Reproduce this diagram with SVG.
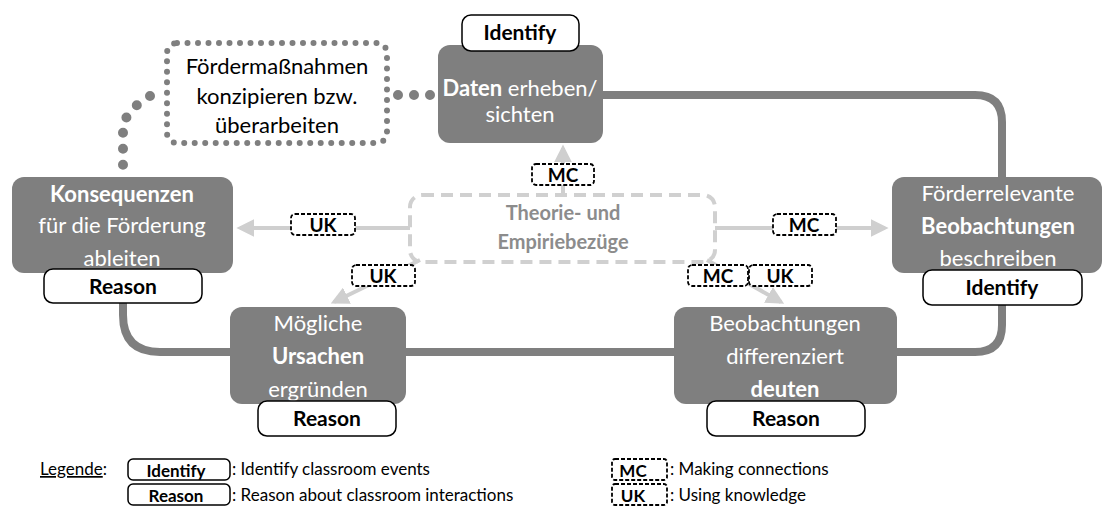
<svg xmlns="http://www.w3.org/2000/svg" width="1105" height="513" viewBox="0 0 1105 513">
<defs>
<style>
.node{fill:#7f7f7f}
.nt{font-family:Lato,"Open Sans",sans-serif;font-size:22px;fill:#fff;text-anchor:middle}
.b{font-weight:bold}
.lab{fill:#fff;stroke:#000;stroke-width:1.5}
.lt{font-family:Lato,"Open Sans",sans-serif;font-size:21px;font-weight:bold;fill:#000;text-anchor:middle}
.tag{fill:#fff;stroke:#000;stroke-width:1.8;stroke-dasharray:4 2}
.tt{font-family:Lato,"Open Sans",sans-serif;font-size:19px;font-weight:bold;fill:#000;text-anchor:middle}
.thick{fill:none;stroke:#7f7f7f;stroke-width:8}
.thin{fill:none;stroke:#cfcfcf;stroke-width:4}
.dots{fill:none;stroke:#7f7f7f;stroke-width:10;stroke-linecap:round;stroke-dasharray:0 16}
.leg{font-family:Lato,"Open Sans",sans-serif;font-size:17px;fill:#000}
.legb{font-family:Lato,"Open Sans",sans-serif;font-size:17px;font-weight:bold;fill:#000;text-anchor:middle}
</style>
<marker id="ah" viewBox="0 0 10 10" refX="8" refY="5" markerWidth="4.5" markerHeight="4.5" orient="auto" markerUnits="strokeWidth">
<path d="M0,0 L10,5 L0,10 z" fill="#cfcfcf"/>
</marker>
</defs>
<rect width="1105" height="513" fill="#fff"/>
<g id="connectors">
<path class="thick" d="M603,95 H975 Q1002,95 1002,122 V177"/>
<path class="thick" d="M1002,305 V325 Q1002,352 975,352 H897"/>
<path class="thick" d="M674,352 H406"/>
<path class="thick" d="M230,352 H160 Q123,352 123,315 V303"/>
<path class="dots" d="M430,95 H395"/>
<path class="dots" d="M150,96 Q123,112 123,130 V170"/>
<path class="thin" d="M563,195 V148" marker-end="url(#ah)"/>
<path class="thin" d="M410,228 H240" marker-end="url(#ah)"/>
<path class="thin" d="M715,228 H885" marker-end="url(#ah)"/>
<path class="thin" d="M420,260 L334,302" marker-end="url(#ah)"/>
<path class="thin" d="M707,260 L781,302" marker-end="url(#ah)"/>
</g>
<g id="massnahmen">
<rect x="167" y="43" width="220" height="100" rx="10" fill="#fff" stroke="#7f7f7f" stroke-width="6" stroke-linecap="round" stroke-dasharray="0 10.5"/>
<text class="nt" x="277" y="74" style="fill:#000">Fördermaßnahmen</text>
<text class="nt" x="277" y="104" style="fill:#000">konzipieren bzw.</text>
<text class="nt" x="277" y="133" style="fill:#000">überarbeiten</text>
</g>
<g id="daten">
<rect class="node" x="438" y="45" width="165" height="98" rx="12"/>
<text class="nt" x="520" y="96"><tspan class="b">Daten</tspan> erheben/</text>
<text class="nt" x="520" y="122">sichten</text>
<rect class="lab" x="462" y="15" width="117" height="36" rx="9"/>
<text class="lt" x="520" y="40">Identify</text>
</g>
<g id="foerderrelevante">
<rect class="node" x="892" y="177" width="210" height="96" rx="12"/>
<text class="nt" x="998" y="201">Förderrelevante</text>
<text class="nt b" x="998" y="234">Beobachtungen</text>
<text class="nt" x="998" y="266">beschreiben</text>
<rect class="lab" x="923" y="270" width="159" height="35" rx="9"/>
<text class="lt" x="1002" y="295">Identify</text>
</g>
<g id="deuten">
<rect class="node" x="674" y="307" width="223" height="97" rx="12"/>
<text class="nt" x="785" y="331">Beobachtungen</text>
<text class="nt" x="785" y="364">differenziert</text>
<text class="nt b" x="785" y="397">deuten</text>
<rect class="lab" x="707" y="401" width="158" height="35" rx="9"/>
<text class="lt" x="786" y="426">Reason</text>
</g>
<g id="ursachen">
<rect class="node" x="230" y="307" width="176" height="97" rx="12"/>
<text class="nt" x="318" y="331">Mögliche</text>
<text class="nt b" x="318" y="364">Ursachen</text>
<text class="nt" x="318" y="397">ergründen</text>
<rect class="lab" x="258" y="401" width="138" height="35" rx="9"/>
<text class="lt" x="327" y="426">Reason</text>
</g>
<g id="konsequenzen">
<rect class="node" x="12" y="177" width="221" height="96" rx="12"/>
<text class="nt b" x="122" y="202">Konsequenzen</text>
<text class="nt" x="122" y="233">für die Förderung</text>
<text class="nt" x="122" y="266">ableiten</text>
<rect class="lab" x="44" y="269" width="158" height="34" rx="9"/>
<text class="lt" x="123" y="294">Reason</text>
</g>
<g id="theorie">
<rect x="410" y="195" width="305" height="67" rx="12" fill="none" stroke="#d0d0d0" stroke-width="4" stroke-dasharray="12 7"/>
<text class="nt b" x="563" y="220" style="fill:#8c8c8c;font-size:20px">Theorie- und</text>
<text class="nt b" x="563" y="249" style="fill:#8c8c8c;font-size:20px">Empiriebezüge</text>
</g>
<g id="tags">
<rect class="tag" x="532" y="164" width="62" height="21" rx="4"/>
<text class="tt" x="563" y="182">MC</text>
<rect class="tag" x="291" y="214" width="64" height="21" rx="4"/>
<text class="tt" x="323" y="232">UK</text>
<rect class="tag" x="773" y="214" width="63" height="21" rx="4"/>
<text class="tt" x="804" y="232">MC</text>
<rect class="tag" x="352" y="265" width="63" height="21" rx="4"/>
<text class="tt" x="383" y="283">UK</text>
<rect class="tag" x="688" y="265" width="60" height="21" rx="4"/>
<text class="tt" x="718" y="283">MC</text>
<rect class="tag" x="749" y="265" width="63" height="21" rx="4"/>
<text class="tt" x="780" y="283">UK</text>
</g>
<g id="legend">
<text class="leg" x="40" y="475"><tspan text-decoration="underline">Legende</tspan>:</text>
<rect class="lab" x="128" y="459" width="102" height="21" rx="5"/>
<text class="legb" x="176" y="477">Identify</text>
<text class="leg" x="232" y="475">: Identify classroom events</text>
<rect class="lab" x="128" y="484" width="102" height="21" rx="5"/>
<text class="legb" x="176" y="502">Reason</text>
<text class="leg" x="232" y="501">: Reason about classroom interactions</text>
<rect class="tag" x="612" y="459" width="55" height="21" rx="3"/>
<text class="legb" x="633" y="477">MC</text>
<text class="leg" x="670" y="475">: Making connections</text>
<rect class="tag" x="612" y="484" width="55" height="21" rx="3"/>
<text class="legb" x="633" y="502">UK</text>
<text class="leg" x="670" y="501">: Using knowledge</text>
</g>
</svg>
